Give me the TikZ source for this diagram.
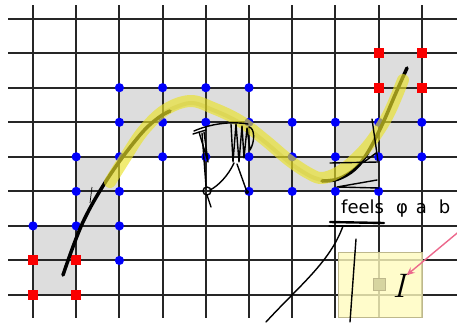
\documentclass[tikz,border=0pt]{standalone}
\usepackage{fontspec}
\newfontfamily\memofont{DejaVu Sans}
\usepackage{tikz}
\usetikzlibrary{arrows.meta, positioning}
\usepackage{xcolor}
\definecolor{cellgray}{RGB}{221,221,221}
\definecolor{gridink}{RGB}{38,38,38}
\definecolor{dotblue}{RGB}{0,0,250}
\definecolor{dotred}{RGB}{250,0,0}
\definecolor{marker}{RGB}{234,226,40}
\definecolor{markercore}{RGB}{190,180,20}
\definecolor{notepaper}{RGB}{255,251,190}
\definecolor{noteedge}{RGB}{190,184,140}
\definecolor{cellmark}{RGB}{214,212,160}
\definecolor{pinkink}{RGB}{236,104,140}
\tikzset{
    gridline/.style={draw=gridink, line width=2pt},
    cellfill/.style={fill=cellgray},
    vertexdot/.style={fill=dotblue},
    endvertex/.style={fill=dotred},
    curveline/.style={line width=3.5pt, line cap=round},
    highlight/.style={draw=marker, line width=12pt, opacity=0.65, line cap=round, line join=round},
    highcore/.style={draw=markercore, line width=4pt, opacity=0.2, line cap=round},
    scribble/.style={line width=1.4pt, line cap=round, line join=round},
    notebox/.style={rectangle, draw=noteedge, fill=notepaper, fill opacity=0.8, minimum width=84pt, minimum height=65pt, inner sep=0pt},
    markcell/.style={rectangle, draw=noteedge, fill=cellmark, minimum size=12pt, inner sep=0pt},
    pointer/.style={-{Stealth[length=8pt, width=7pt]}, draw=pinkink, line width=1.4pt}
}
\def\gx{43.2}
\def\gy{34.55}

\begin{document}
\begin{tikzpicture}[x=1pt, y=-1pt]
    \path[use as bounding box] (0,0) rectangle (457,322);
    \clip (0,0) rectangle (457,322);

    % cells hit by the curve
    \foreach \c/\r in {0/0,0/1,1/1,1/2,1/3,2/4,2/5,3/5,4/5,4/4,5/4,5/3,6/3,7/3,7/4,8/4,8/5,8/6}
        \fill[cellfill] ({33+\c*\gx},{295-\r*\gy}) rectangle ++(\gx,-\gy);

    % grid
    \foreach \c in {0,...,9}
        \draw[gridline] ({33+\c*\gx},5) -- ({33+\c*\gx},318);
    \foreach \r in {0,...,8}
        \draw[gridline] (8,{295-\r*\gy}) -- (457,{295-\r*\gy});

    % corners
    \foreach \c/\r in {0/2,1/2,2/1,2/2,1/3,2/3,1/4,2/4,3/4,4/4,5/4,6/4,7/4,8/4,9/4,2/5,3/5,4/5,5/5,6/5,7/5,8/5,9/5,2/6,3/6,4/6,5/6,5/3,6/3,7/3,8/3}
        \fill[vertexdot] ({33+\c*\gx},{295-\r*\gy}) circle (4.6);
    \foreach \c/\r in {0/0,1/0,0/1,1/1,8/6,9/6,8/7,9/7}
        \fill[endvertex] ({33+\c*\gx-5},{295-\r*\gy-5}) rectangle ++(10,10);

    % curve (its middle lies under the marker stroke)
    \draw[curveline] plot[smooth, tension=0.6] coordinates {(63,275) (83,222) (110,175) (140,135) (158,118) (170,111)};
    \draw[curveline] plot[smooth, tension=0.6] coordinates {(322,181) (338,179) (355,169) (368,152) (382,125) (395,95) (407,68)};
    \draw[highlight] plot[smooth, tension=0.6] coordinates {(110,182) (125,158) (143,131) (165,110) (190,101) (213,108) (240,121) (265,140) (290,161) (310,174) (322,178) (337,173) (352,162) (370,143) (388,115) (403,80)};
    \draw[highcore] plot[smooth, tension=0.6] coordinates {(165,112) (190,103) (213,110) (240,123) (265,142) (290,163) (310,176) (322,180)};

    % selected cell
    \node[notebox] (selbox) at (380,284.5) {};
    \node[markcell] (icell) at (379,284) {};
    \node[inner sep=0pt, font=\fontsize{34}{34}\selectfont\itshape] (ilabel) at (399,286) {I};
    \coordinate (pinktail) at (462,229);
    \draw[pointer] (pinktail) -- ([shift={(1pt,-1pt)}]ilabel.north east);

    % scribble on the crest
    \draw[scribble] (194,131) .. controls (210,124) and (230,121) .. (248,124);
    \draw[scribble] (193,134) -- (206,130);
    \draw[scribble] (199,132) -- (208,162) -- (204,132);
    \draw[scribble] (202,133) -- (206,186);
    \draw[scribble] (207,191) circle (4);
    \draw[scribble] (207,195) -- (211,207);
    \draw[scribble] (231,124) -- (233,162) -- (236,124) -- (239,162) -- (242,126) -- (244,158) -- (247,128) -- (250,150) .. controls (255,142) and (255,128) .. (249,127);
    \draw[scribble] (234,163) .. controls (228,176) and (218,186) .. (210,190);
    \draw[scribble] (237,164) -- (247,192);
    \fill (247,192) circle (2);
    \draw[line width=0.7pt] (92,187) -- (90,203);

    % scribble at the dip
    \draw[scribble] (372,119) -- (378,161);
    \draw[scribble] (330,163) -- (378,162);
    \draw[scribble] (364,162) -- (376,153);
    \draw[scribble] (377,180) -- (337,187) -- (379,188);
    \draw[scribble, line width=2.4pt] (330,222) -- (384,223);
    \draw[scribble] (329,226) -- (360,226);
    \draw[scribble] (343,226) .. controls (330,262) and (300,285) .. (266,322);
    \draw[scribble] (356,239) -- (350,322);

    \node[anchor=base west, inner sep=0pt, font=\memofont\fontsize{18}{18}\selectfont] (memo) at (341,213) {feels\hspace{12pt}φ\hspace{8pt}a\hspace{12pt}b};
\end{tikzpicture}
\end{document}
